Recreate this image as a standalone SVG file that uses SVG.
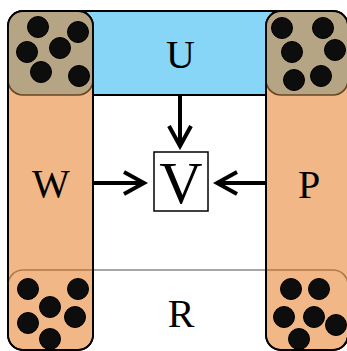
<svg xmlns="http://www.w3.org/2000/svg" width="347" height="351" viewBox="0 0 347 351">
  <style>
    .lbl { font-family: "Liberation Serif", "Times New Roman", serif; font-size: 40px; fill: #000; text-anchor: middle; }
    .col { fill: #F1B786; stroke: #000; stroke-width: 1.8; }
    .cap { fill: #B5A584; stroke: #6B4520; stroke-width: 1.6; }
    .cell { fill: none; stroke: #B07A48; stroke-width: 1.6; }
    .dot { fill: #0D0D0D; stroke: #000; stroke-width: 1; }
    .edge { stroke: #000; stroke-width: 4; fill: none; }
  </style>
  <defs>
    <marker id="chev" viewBox="0 0 26 26" refX="22" refY="13" markerWidth="26" markerHeight="26" markerUnits="userSpaceOnUse" orient="auto">
      <path d="M2,2 L22,13 L2,24" fill="none" stroke="#000" stroke-width="4" stroke-linejoin="miter"/>
    </marker>
    <g id="dots6">
      <circle class="dot" r="10.5" cx="0" cy="0"/>
    </g>
  </defs>

  <rect width="347" height="351" fill="#fff"/>

  <!-- top band U -->
  <g id="U">
    <rect x="60" y="11" width="240" height="84" rx="15" fill="#87D6F8" stroke="#000" stroke-width="1.8"/>
    <text class="lbl" x="180.5" y="68">U</text>
  </g>

  <!-- bottom band R -->
  <g id="R">
    <line x1="93" y1="270" x2="266" y2="270" stroke="#888" stroke-width="1.5"/>
    <text class="lbl" x="181" y="327">R</text>
  </g>

  <!-- left column W -->
  <g id="W">
    <rect class="col" x="8" y="11" width="85" height="339" rx="15"/>
    <path class="cell" d="M8,285 A15,15 0 0 1 23,270 L93,270"/>
    <rect class="cap" x="8" y="11" width="85" height="84" rx="15"/>
    <rect x="8" y="11" width="85" height="339" rx="15" fill="none" stroke="#000" stroke-width="1.8"/>
    <circle class="dot" r="10.5" cx="38" cy="27"/>
    <circle class="dot" r="10.5" cx="78" cy="32"/>
    <circle class="dot" r="10.5" cx="27" cy="52"/>
    <circle class="dot" r="10.5" cx="60" cy="48"/>
    <circle class="dot" r="10.5" cx="41" cy="72"/>
    <circle class="dot" r="10.5" cx="79" cy="76"/>
    <circle class="dot" r="10.5" cx="28" cy="289"/>
    <circle class="dot" r="10.5" cx="78" cy="289"/>
    <circle class="dot" r="10.5" cx="50" cy="307"/>
    <circle class="dot" r="10.5" cx="28" cy="323"/>
    <circle class="dot" r="10.5" cx="75" cy="317"/>
    <circle class="dot" r="10.5" cx="50" cy="339"/>
    <text class="lbl" x="51" y="197">W</text>
  </g>

  <!-- right column P -->
  <g id="P">
    <rect class="col" x="266" y="11" width="82" height="339" rx="15"/>
    <path class="cell" d="M266,270 L333,270 A15,15 0 0 1 348,285"/>
    <rect class="cap" x="266" y="11" width="82" height="84" rx="15"/>
    <rect x="266" y="11" width="82" height="339" rx="15" fill="none" stroke="#000" stroke-width="1.8"/>
    <circle class="dot" r="10.5" cx="282" cy="28"/>
    <circle class="dot" r="10.5" cx="323" cy="28"/>
    <circle class="dot" r="10.5" cx="292" cy="52"/>
    <circle class="dot" r="10.5" cx="335" cy="50"/>
    <circle class="dot" r="10.5" cx="294" cy="80"/>
    <circle class="dot" r="10.5" cx="321" cy="76"/>
    <circle class="dot" r="10.5" cx="291" cy="289"/>
    <circle class="dot" r="10.5" cx="319" cy="289"/>
    <circle class="dot" r="10.5" cx="284" cy="317"/>
    <circle class="dot" r="10.5" cx="314" cy="317"/>
    <circle class="dot" r="10.5" cx="336" cy="325"/>
    <circle class="dot" r="10.5" cx="299" cy="339"/>
    <text class="lbl" x="309" y="198">P</text>
  </g>

  <!-- centre node V -->
  <g id="V">
    <rect x="154" y="152" width="54" height="59" fill="#fff" stroke="#000" stroke-width="1.5"/>
    <text class="lbl" x="181" y="203" style="font-size:60px">V</text>
  </g>

  <!-- connectors -->
  <g id="edges">
    <line class="edge" x1="180" y1="95" x2="180" y2="146" marker-end="url(#chev)"/>
    <line class="edge" x1="93" y1="183" x2="144" y2="183" marker-end="url(#chev)"/>
    <line class="edge" x1="266" y1="183" x2="217" y2="183" marker-end="url(#chev)"/>
  </g>
</svg>
